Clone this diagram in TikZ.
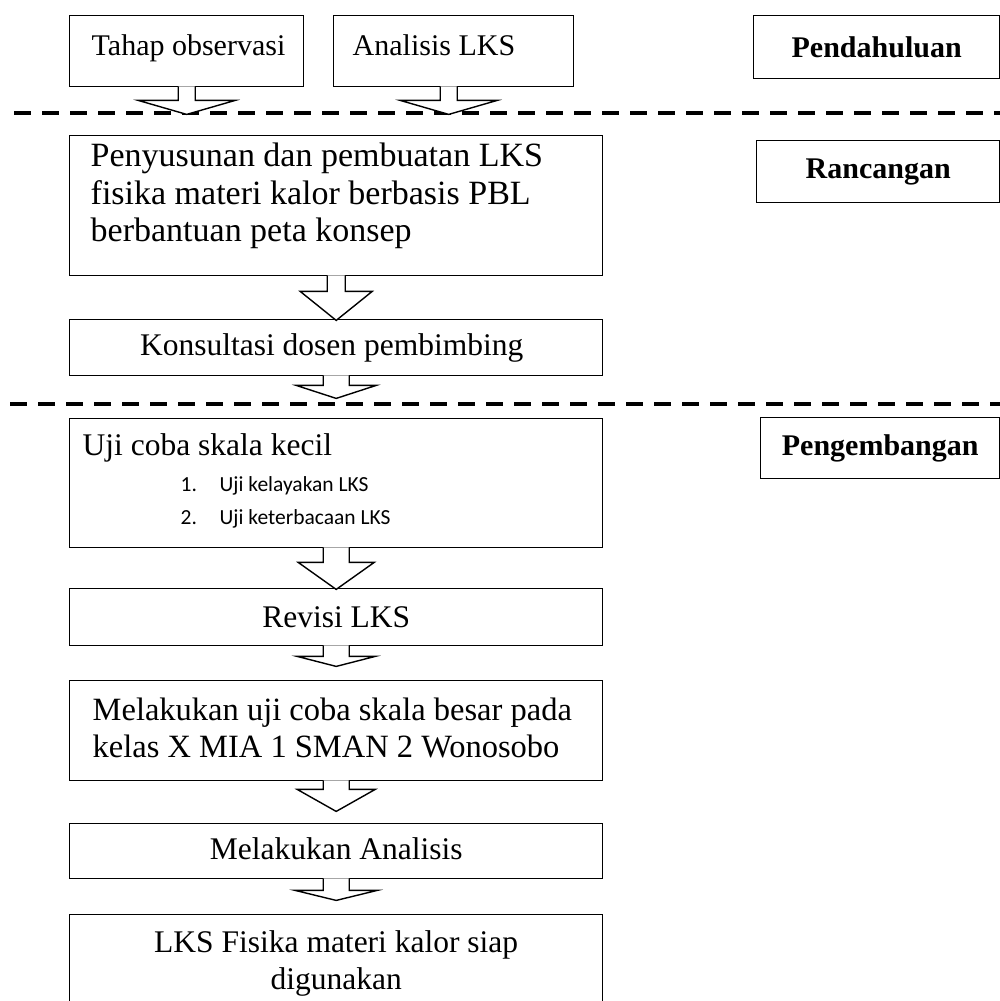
\documentclass[tikz,border=0pt]{standalone}
\usepackage{fontspec}
\setmainfont{Liberation Serif}
\newfontfamily\calibrifont{Carlito}
\usetikzlibrary{calc}
\tikzset{
  box/.style={draw, line width=1.4pt, inner sep=0pt, anchor=north west,
              font=\fontsize{31.5}{37}\selectfont},
  tagbox/.style={box, font=\fontsize{30}{36}\selectfont\bfseries},
  sepline/.style={line width=4.2pt, dash pattern=on 17pt off 11pt},
  barrow/.style={draw, line width=1.4pt, fill=white, line join=miter},
}
% left-aligned block: #1 width, #2 left margin, #3 lines separated by \par
\newcommand{\ltext}[3]{\vtop{\hsize=#1\parindent=0pt\leftskip=#2\rightskip=0pt plus 1fil\parfillskip=0pt plus 1fil\relax #3\par}}
% centred block: #1 width, #2 lines separated by \par
\newcommand{\ctext}[2]{\vtop{\hsize=#1\parindent=0pt\leftskip=0pt plus 1fil\rightskip=0pt plus 1fil\parfillskip=0pt\relax #2\par}}
% #1 node, #2 x offset, #3 stem half width, #4 stem length, #5 head half width, #6 head length
\newcommand{\blockarrow}[6]{%
  \draw[barrow] ($(#1.south)+(#2-#3,-1)$) -- ($(#1.south)+(#2-#3,#4)$)
    -- ($(#1.south)+(#2-#5,#4)$) -- ($(#1.south)+(#2,#4+#6)$)
    -- ($(#1.south)+(#2+#5,#4)$) -- ($(#1.south)+(#2+#3,#4)$)
    -- ($(#1.south)+(#2+#3,-1)$);
}
\begin{document}
\begin{tikzpicture}[x=1pt,y=-1pt]
\path[use as bounding box] (0,0) rectangle (1000,1001);
\clip (0,0) rectangle (1000,1001);

% separators
\coordinate (d1a) at (14,113);
\coordinate (d1b) at (1000,113);
\coordinate (d2a) at (10,404);
\coordinate (d2b) at (1000,404);
\draw[sepline] (d1a) -- (d1b);
\draw[sepline] (d2a) -- (d2b);

% Pendahuluan
\node[box, font=\fontsize{30}{36}\selectfont, text height=40pt, text depth=31pt] (tahap) at (69,15)
  {\ltext{234pt}{22pt}{Tahap observasi}};
\node[box, font=\fontsize{30}{36}\selectfont, text height=40pt, text depth=31pt] (analisis) at (333,15)
  {\ltext{240pt}{19pt}{Analisis LKS}};
\node[tagbox, text height=42pt, text depth=21pt] (pend) at (753,15)
  {\ctext{246pt}{Pendahuluan}};

% Rancangan
\node[box, font=\fontsize{34}{37.5}\selectfont, text height=31pt, text depth=109pt] (peny) at (69,135)
  {\ltext{533pt}{21pt}{Penyusunan dan pembuatan LKS\par fisika materi kalor berbasis PBL\par berbantuan peta konsep}};
\node[tagbox, text height=38pt, text depth=24pt] (ranc) at (756,140)
  {\ctext{243pt}{Rancangan}};
\node[box, text height=36pt, text depth=20pt] (kons) at (69,319)
  {\ctext{533pt}{Konsultasi dosen pembimbing\hspace*{9pt}}};

% Pengembangan
\node[box, text height=37pt, text depth=92pt] (uji) at (69,418)
  {\ltext{533pt}{13pt}{Uji coba skala kecil\par
   {\calibrifont\fontsize{21.5}{36}\selectfont\hspace*{98pt}\makebox[39pt][l]{1.}Uji kelayakan LKS\par}%
   {\calibrifont\fontsize{21.5}{33}\selectfont\hspace*{98pt}\makebox[39pt][l]{2.}Uji keterbacaan LKS\par}}};
\node[tagbox, text height=38pt, text depth=23pt] (peng) at (760,417)
  {\ctext{239pt}{Pengembangan}};
\node[box, text height=39pt, text depth=18pt] (revisi) at (69,588)
  {\ctext{533pt}{Revisi LKS}};
\node[box, font=\fontsize{32.5}{37}\selectfont, text height=40pt, text depth=60pt] (mel) at (69,680)
  {\ltext{533pt}{23pt}{Melakukan uji coba skala besar pada\par kelas X MIA 1 SMAN 2 Wonosobo}};
\node[box, text height=36pt, text depth=19pt] (anal2) at (69,823)
  {\ctext{533pt}{Melakukan Analisis}};
\node[box, text height=38pt, text depth=88pt] (final) at (69,914)
  {\ctext{533pt}{LKS Fisika materi kalor siap\par digunakan}};

% block arrows
\blockarrow{tahap}{0}{8.5}{13}{48.5}{14}
\blockarrow{analisis}{-5}{8.5}{13}{48.5}{14}
\blockarrow{peny}{0}{9}{15}{36}{29}
\blockarrow{kons}{0}{13}{9}{40}{13}
\blockarrow{uji}{0}{13}{14}{38}{27}
\blockarrow{revisi}{0}{13}{10}{39}{10}
\blockarrow{mel}{0}{13}{8}{39}{22}
\blockarrow{anal2}{0}{13}{11}{41}{10}
\end{tikzpicture}
\end{document}
